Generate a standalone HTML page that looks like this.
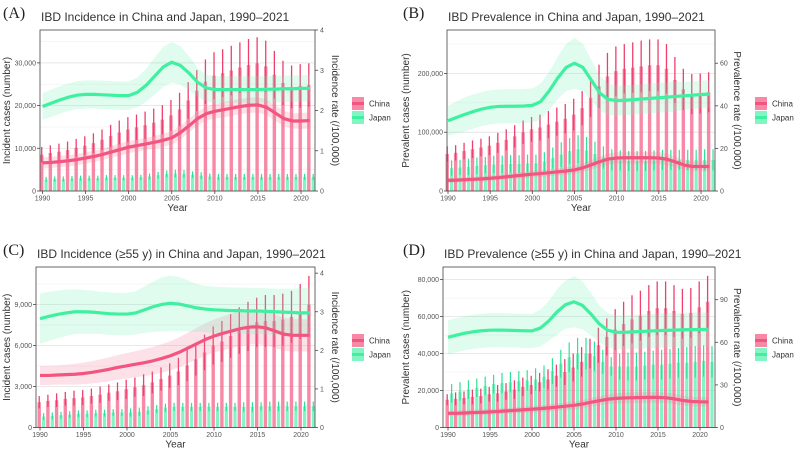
<!DOCTYPE html>
<html><head><meta charset="utf-8"><style>
html,body{margin:0;padding:0;background:#fff;}
svg{display:block;font-family:"Liberation Sans",sans-serif;}
</style></head><body>
<svg id="fig" width="800" height="454" viewBox="0 0 800 454"></svg>
<script>
const years=[1990,1991,1992,1993,1994,1995,1996,1997,1998,1999,2000,2001,2002,2003,2004,2005,2006,2007,2008,2009,2010,2011,2012,2013,2014,2015,2016,2017,2018,2019,2020,2021];
const xTicks=[1990,1995,2000,2005,2010,2015,2020];
// Panel A
const chinaCasesA=[8500,8900,9200,9600,10100,10600,11200,12000,12900,13700,14400,14900,15400,16000,16700,17700,19100,21200,23500,25600,27000,27600,28200,28900,29500,29900,29200,27200,25300,24400,24600,24800];
const chinaUpperA=[10300,10700,11100,11600,12200,12800,13500,14400,15500,16500,17300,17900,18600,19300,20100,21300,23000,25500,28300,30800,32500,33200,34000,34800,35600,36000,35200,32800,30500,29400,29700,29900];
const japanCasesA=[2700,2800,2800,2900,3000,3000,3000,3100,3100,3100,3100,3200,3400,3700,4000,4100,4000,3800,3600,3400,3300,3300,3300,3300,3300,3300,3300,3300,3300,3300,3300,3300];
const japanUpperA=[3300,3400,3400,3500,3600,3600,3600,3700,3700,3700,3700,3800,4100,4500,4800,5000,4900,4600,4400,4100,4000,4000,4000,4000,4000,4000,4000,4000,4000,4000,4000,4000];
const chinaRateA=[0.70,0.71,0.73,0.75,0.78,0.82,0.86,0.91,0.97,1.03,1.09,1.13,1.17,1.21,1.26,1.32,1.45,1.62,1.80,1.92,1.98,2.02,2.06,2.10,2.13,2.14,2.08,1.94,1.80,1.74,1.74,1.75];
const chinaBandA=[0.14,0.14,0.14,0.14,0.14,0.14,0.14,0.14,0.15,0.15,0.15,0.15,0.15,0.16,0.16,0.17,0.17,0.17,0.17,0.17,0.18,0.19,0.19,0.19,0.19,0.19,0.19,0.19,0.19,0.19,0.2,0.2];
const japanRateA=[2.10,2.18,2.26,2.33,2.38,2.40,2.40,2.39,2.38,2.37,2.37,2.45,2.62,2.85,3.08,3.20,3.12,2.93,2.70,2.56,2.52,2.52,2.52,2.52,2.52,2.52,2.53,2.53,2.54,2.54,2.55,2.55];
const japanBandA=[0.33,0.34,0.34,0.34,0.35,0.35,0.35,0.35,0.35,0.35,0.35,0.37,0.41,0.46,0.5,0.5,0.48,0.42,0.36,0.33,0.33,0.33,0.33,0.33,0.33,0.33,0.33,0.33,0.33,0.33,0.33,0.33];
// Panel B
const chinaCasesB=[63000,65000,68000,71000,74000,77000,82000,87000,93000,100000,105000,108000,113000,118000,123000,130000,141000,159000,178000,195000,204000,208000,210000,212000,214000,214000,208000,189000,173000,165000,166000,168000];
const chinaUpperB=[76000,78000,82000,86000,89000,93000,99000,105000,112000,120000,126000,130000,136000,142000,148000,157000,170000,192000,215000,235000,246000,250000,253000,256000,258000,258000,250000,228000,208000,199000,200000,202000];
const japanCasesB=[39000,40000,41000,43000,44000,45000,45000,46000,46000,47000,47000,50000,56000,62000,68000,71000,69000,63000,57000,53000,52000,51000,51000,51000,52000,53000,53000,53000,53000,53000,53000,53000];
const japanUpperB=[52000,53000,55000,57000,58000,60000,60000,61000,61000,62000,62000,66000,74000,83000,90000,95000,92000,84000,76000,71000,69000,68000,68000,68000,69000,70000,70000,70000,70000,70000,71000,71000];
const chinaRateB=[5.0,5.1,5.3,5.5,5.7,6.0,6.3,6.7,7.1,7.5,7.9,8.2,8.6,9.0,9.4,9.9,10.9,12.3,13.8,15.0,15.5,15.6,15.6,15.6,15.6,15.5,14.9,13.6,12.2,11.5,11.5,11.5];
const chinaBandB=[1.2,1.2,1.2,1.2,1.3,1.3,1.3,1.4,1.4,1.5,1.5,1.6,1.6,1.7,1.8,1.9,2.0,2.2,2.4,2.6,2.7,2.8,2.8,2.8,2.8,2.8,2.7,2.5,2.3,2.2,2.2,2.2];
const japanRateB=[33,34.5,36,37.3,38.5,39.3,39.7,39.8,39.8,39.9,40.2,42,47,53,58,60,58,52,46,43,42.5,42.6,42.9,43.2,43.5,43.8,44.1,44.4,44.7,45,45.3,45.5];
const japanBandB=[7,7.5,8,8,8,8,8,8,8,8,8,8.5,9,10,11,12,11,9.5,8,7.5,7,7,7,7,7,7,7,7,6.5,6.5,6.5,6.5];
// Panel C
const chinaCasesC=[1850,1950,2000,2100,2150,2200,2300,2400,2550,2650,2800,2950,3100,3300,3550,3800,4100,4550,5000,5500,6000,6300,6700,7100,7400,7700,7800,7800,7900,8100,8500,9000];
const chinaUpperC=[2300,2400,2500,2600,2700,2750,2850,3000,3150,3300,3500,3650,3900,4100,4400,4700,5100,5700,6200,6800,7400,7800,8300,8800,9200,9500,9700,9700,9800,10000,10500,11100];
const japanCasesC=[800,850,900,950,1000,1000,1050,1050,1100,1100,1100,1150,1250,1350,1450,1500,1500,1500,1500,1500,1500,1500,1500,1500,1500,1550,1550,1550,1550,1550,1550,1550];
const japanUpperC=[1050,1100,1150,1200,1250,1250,1300,1300,1350,1350,1400,1450,1550,1650,1750,1800,1800,1800,1800,1800,1800,1800,1800,1850,1850,1850,1900,1900,1900,1900,1900,1900];
const chinaRateC=[1.35,1.35,1.36,1.37,1.38,1.40,1.43,1.47,1.51,1.56,1.60,1.64,1.68,1.73,1.79,1.86,1.95,2.06,2.17,2.28,2.37,2.44,2.50,2.56,2.60,2.61,2.58,2.50,2.42,2.39,2.39,2.39];
const chinaBandC=[0.25,0.25,0.25,0.26,0.27,0.28,0.29,0.3,0.31,0.32,0.33,0.34,0.35,0.36,0.37,0.38,0.39,0.4,0.41,0.42,0.43,0.44,0.45,0.45,0.45,0.45,0.45,0.44,0.43,0.42,0.42,0.42];
const japanRateC=[2.82,2.88,2.93,2.97,3.0,3.0,2.99,2.97,2.95,2.94,2.94,2.97,3.05,3.13,3.19,3.22,3.20,3.15,3.10,3.07,3.05,3.04,3.03,3.03,3.02,3.02,3.01,3.00,2.99,2.98,2.97,2.97];
const japanBandC=[0.65,0.64,0.62,0.6,0.58,0.57,0.56,0.55,0.55,0.55,0.55,0.56,0.6,0.65,0.7,0.72,0.7,0.66,0.62,0.6,0.6,0.6,0.6,0.6,0.6,0.6,0.6,0.6,0.6,0.62,0.64,0.66];
// Panel D
const chinaCasesD=[15000,15500,16000,16500,17000,18000,18500,19500,20500,22000,23000,24500,26000,28000,30000,32500,35500,40000,44500,49000,53000,56000,58500,60500,63000,64500,64500,63000,61500,62000,65000,68000];
const chinaUpperD=[18000,19000,19500,20500,21000,22000,23000,24000,25500,27000,28000,29500,31500,34000,37000,40000,43500,48000,54000,59000,64000,68000,71500,74000,77000,79000,79000,77000,75000,75500,79000,82000];
const japanCasesD=[18500,19500,20500,21500,22500,23500,24000,24500,25000,25500,26000,27500,30500,34500,38000,40000,40000,38500,35500,33000,33000,33000,33000,33500,34000,34000,34500,35000,35000,35500,36000,35500];
const japanUpperD=[23500,24500,25500,26500,27500,28500,29500,30000,30500,31000,32000,33500,37500,42000,46000,48500,48500,46500,42000,38000,40000,40500,40500,41000,41500,42000,42500,43000,43500,44000,44500,44000];
const chinaRateD=[10,10,10.2,10.5,10.7,11,11.3,11.7,12.1,12.5,12.9,13.3,13.8,14.4,15,15.6,16.5,17.7,18.9,19.9,20.5,20.8,21,21.1,21.2,21.2,20.9,20.1,19,18.3,18.1,18];
const chinaBandD=[2,2,2,2,2,2,2,2,2.1,2.2,2.3,2.4,2.5,2.6,2.7,2.8,2.9,3,3.2,3.4,3.6,3.7,3.8,3.8,3.8,3.8,3.7,3.6,3.4,3.3,3.3,3.3];
const japanRateD=[63.5,65,66.4,67.4,68.1,68.5,68.6,68.5,68.3,68.1,68,70,75,81.5,86.5,88.5,86,80,73,68.5,67,67,67.3,67.6,67.9,68.2,68.4,68.6,68.8,68.9,69,69];
const japanBandD=[12,12,12,12,12,12,12,12,12,12,12,13,14,16,17,18,17,15,13,12,12,12,12,12,12,12,12,12,12,12,12,12];
const leftTicksA=[0,10000,20000,30000], rightTicksA=[0,1,2,3,4];
const leftTicksB=[0,100000,200000], rightTicksB=[0,20,40,60];
const leftTicksC=[0,3000,6000,9000], rightTicksC=[0,1,2,3,4];
const leftTicksD=[0,20000,40000,60000,80000], rightTicksD=[0,30,60,90];

const NS="http://www.w3.org/2000/svg";
const svg=document.getElementById('fig');
function mk(tag,attrs,parent){const e=document.createElementNS(NS,tag);for(const k in attrs)e.setAttribute(k,attrs[k]);(parent||svg).appendChild(e);return e;}
function fmt(v){return v.toLocaleString('en-US');}

const panels=[
 {id:'a',label:'(A)',title:'IBD Incidence in China and Japan, 1990–2021',L:40,R:315,T:30,B:191,x0:42.5,x1:301,lmax:37700,rmax:4.0,
  ly:'Incident cases (number)',ry:'Incidence rate (/100,000)',lt:leftTicksA,rt:rightTicksA,
  cc:chinaCasesA,cu:chinaUpperA,jc:japanCasesA,ju:japanUpperA,cr:chinaRateA,cb:chinaBandA,jr:japanRateA,jb:japanBandA,lgX:352,lgY:97,lyX:7,ryX:332},
 {id:'b',label:'(B)',title:'IBD Prevalence in China and Japan, 1990–2021',L:447,R:715,T:30,B:191,x0:448,x1:701,lmax:274000,rmax:75.6,
  ly:'Prevalent cases (number)',ry:'Prevalence rate (/100,000)',lt:leftTicksB,rt:rightTicksB,
  cc:chinaCasesB,cu:chinaUpperB,jc:japanCasesB,ju:japanUpperB,cr:chinaRateB,cb:chinaBandB,jr:japanRateB,jb:japanBandB,lgX:755,lgY:97,lyX:406,ryX:734},
 {id:'c',label:'(C)',title:'IBD Incidence (≥55 y) in China and Japan, 1990–2021',L:36,R:315,T:267,B:427.5,x0:40,x1:301,lmax:11750,rmax:4.16,
  ly:'Incident cases (number)',ry:'Incidence rate (/100,000)',lt:leftTicksC,rt:rightTicksC,
  cc:chinaCasesC,cu:chinaUpperC,jc:japanCasesC,ju:japanUpperC,cr:chinaRateC,cb:chinaBandC,jr:japanRateC,jb:japanBandC,lgX:352,lgY:334,lyX:7,ryX:332},
 {id:'d',label:'(D)',title:'IBD Prevalence (≥55 y) in China and Japan, 1990–2021',L:443,R:715,T:267,B:427.5,x0:448,x1:700,lmax:86800,rmax:113,
  ly:'Prevalent cases (number)',ry:'Prevalence rate (/100,000)',lt:leftTicksD,rt:rightTicksD,
  cc:chinaCasesD,cu:chinaUpperD,jc:japanCasesD,ju:japanUpperD,cr:chinaRateD,cb:chinaBandD,jr:japanRateD,jb:japanBandD,lgX:755,lgY:334,lyX:406,ryX:734}
];

panels.forEach(p=>{
 const g=mk('g',{});
 
 
 const xs=y=>p.x0+(y-1990)*(p.x1-p.x0)/30;
 const yl=v=>p.B-v/p.lmax*(p.B-p.T);
 const yr=v=>p.B-v/p.rmax*(p.B-p.T);
 const lab=mk('text',{x:p.L-37,y:p.T-12,'font-family':'Liberation Serif,serif','font-size':16,fill:'#222'},g);lab.textContent=p.label;
 
 lab.setAttribute('x',p.id==='a'||p.id==='c'?3:403);
 const tt=mk('text',{x:p.L+1,y:p.T-9,'font-size':12,fill:'#333'},g);tt.textContent=p.title;
 
 p.lt.forEach((t,i)=>{
   mk('line',{x1:p.L,x2:p.R,y1:yl(t),y2:yl(t),stroke:'#e6e6e6','stroke-width':0.9},g);
   if(i<p.lt.length-1){const m=(t+p.lt[i+1])/2;mk('line',{x1:p.L,x2:p.R,y1:yl(m),y2:yl(m),stroke:'#f0f0f0','stroke-width':0.6},g);}
 });
 {const last=p.lt[p.lt.length-1],step=p.lt[1]-p.lt[0],m=last+step/2;if(m<p.lmax)mk('line',{x1:p.L,x2:p.R,y1:yl(m),y2:yl(m),stroke:'#f0f0f0','stroke-width':0.6},g);}
 years.forEach((yr_,i)=>{
   const x=xs(yr_);
   const cb=mk('rect',{x:x-2.5,y:yl(p.cc[i]),width:3.4,height:p.B-yl(p.cc[i]),fill:'rgba(244,92,132,0.72)'},g);
   
   const lo=2*p.cc[i]-p.cu[i];
   const ce=mk('line',{x1:x-0.8,x2:x-0.8,y1:yl(p.cu[i]),y2:yl(lo),stroke:'#ee3f6d','stroke-width':1.3},g);
   
   const jb=mk('rect',{x:x+2,y:yl(p.jc[i]),width:3.2,height:p.B-yl(p.jc[i]),fill:'rgba(90,240,175,0.75)'},g);
   
   const jlo=2*p.jc[i]-p.ju[i];
   const je=mk('line',{x1:x+3.6,x2:x+3.6,y1:yl(p.ju[i]),y2:yl(jlo),stroke:'#30e096','stroke-width':1.2},g);
   
 });
 [[p.cr,p.cb,'rgba(245,120,150,0.22)','china'],[p.jr,p.jb,'rgba(110,240,180,0.22)','japan']].forEach(([r,b,bf,nm])=>{
   let up=years.map((y,i)=>xs(y)+','+yr(r[i]+b[i])).join(' ');
   let dn=years.slice().reverse().map((y,k)=>{const i=years.length-1-k;return xs(y)+','+yr(Math.max(0,r[i]-b[i]));}).join(' ');
   const band=mk('polygon',{points:up+' '+dn,fill:bf},g);
   
 });
 [[p.cr,'#f2557f','china'],[p.jr,'#3ff0a0','japan']].forEach(([r,lc,nm])=>{
   const ln=mk('polyline',{points:years.map((y,i)=>xs(y)+','+yr(r[i])).join(' '),fill:'none',stroke:lc,'stroke-width':3.2,'stroke-linejoin':'round'},g);
   
 });
 mk('rect',{x:p.L,y:p.T,width:p.R-p.L,height:p.B-p.T,fill:'none',stroke:'#444','stroke-width':0.8},g);
 p.lt.forEach(t=>{
   mk('line',{x1:p.L-3,x2:p.L,y1:yl(t),y2:yl(t),stroke:'#444','stroke-width':0.8},g);
   const tx=mk('text',{x:p.L-4,y:yl(t)+2.5,'text-anchor':'end','font-size':7,fill:'#555'},g);tx.textContent=fmt(t);
   
 });
 p.rt.forEach(t=>{
   mk('line',{x1:p.R,x2:p.R+3,y1:yr(t),y2:yr(t),stroke:'#444','stroke-width':0.8},g);
   const tx=mk('text',{x:p.R+5,y:yr(t)+2.5,'font-size':7,fill:'#555'},g);tx.textContent=t;
   
 });
 xTicks.forEach(t=>{
   mk('line',{x1:xs(t),x2:xs(t),y1:p.B,y2:p.B+3,stroke:'#444','stroke-width':0.8},g);
   const tx=mk('text',{x:xs(t),y:p.B+9.5,'text-anchor':'middle','font-size':7,fill:'#555'},g);tx.textContent=t;
   
 });
 const xt=mk('text',{x:(p.L+p.R)/2,y:p.B+20,'text-anchor':'middle','font-size':10,fill:'#333'},g);xt.textContent='Year';
 
 const cy=(p.T+p.B)/2;
 const lyt=mk('text',{x:0,y:0,transform:`translate(${p.lyX+3},${cy}) rotate(-90)`,'text-anchor':'middle','font-size':10,fill:'#333'},g);lyt.textContent=p.ly;
 
 const ryt=mk('text',{x:0,y:0,transform:`translate(${p.ryX},${cy}) rotate(90)`,'text-anchor':'middle','font-size':10,fill:'#333'},g);ryt.textContent=p.ry;
 
 [['China','rgba(244,92,132,0.72)','#f2557f'],['Japan','rgba(90,240,175,0.75)','#3ff0a0']].forEach(([n,f,lc],k)=>{
   const lg=mk('g',{},g);
   
   const y0=p.lgY+k*14;
   mk('rect',{x:p.lgX,y:y0,width:12,height:13,fill:f},lg);
   mk('line',{x1:p.lgX,x2:p.lgX+12,y1:y0+6.5,y2:y0+6.5,stroke:lc,'stroke-width':3},lg);
   const t=mk('text',{x:p.lgX+17,y:y0+9.5,'font-size':8,fill:'#333'},lg);t.textContent=n;
 });
});
</script>
</body></html>
